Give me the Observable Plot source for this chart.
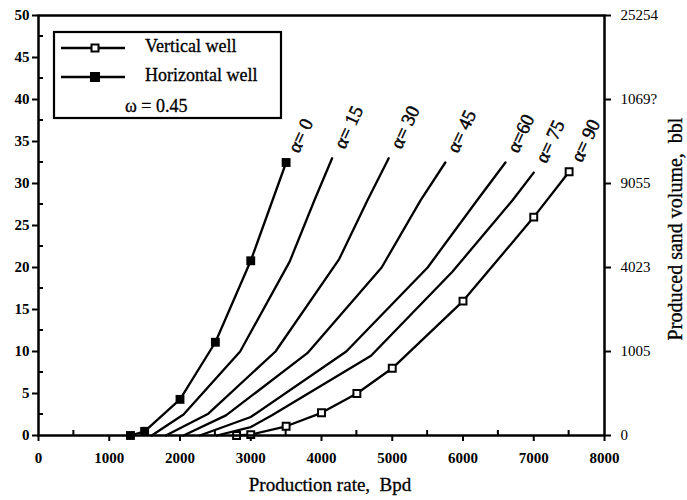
<!DOCTYPE html>
<html><head><meta charset="utf-8">
<script src="https://cdn.jsdelivr.net/npm/d3@7"></script>
<script src="https://cdn.jsdelivr.net/npm/@observablehq/plot@0.6"></script>
<style>
body{margin:0;background:#fff;}
#chart{position:relative;width:687px;height:500px;}
svg text{white-space:pre;}
</style></head><body><div id="chart"></div>
<script>
// ---- data ----
const xTicks = [0,1000,2000,3000,4000,5000,6000,7000,8000];
const xMinor = [500,1500,2500,3500,4500,5500,6500,7500];
const yTicks = [0,5,10,15,20,25,30,35,40,45,50];
const yMinor = [2.5,7.5,12.5,17.5,22.5,27.5,32.5,37.5,42.5,47.5];
const rightPos = [0,10,20,30,40,50];
const rightLabels = ["0","1005","4023","9055","1069?","25254"];

const seriesNames = ["α= 0","α= 15","α= 30","α= 45","α=60","α= 75","α= 90"];
const horizX = [1300,1500,2000,2500,3000,3500];
const horizY = [0,0.5,4.3,11.1,20.8,32.5];
const a15X = [1600,2050,2850,3550,3900,4150];
const a15Y = [0,2.5,10,20.7,28,33];
const a30X = [1800,2400,3350,4250,4650,4950];
const a30Y = [0,2.6,10,21,28,33];
const a45X = [2050,2650,3800,4850,5400,5750];
const a45Y = [0,2.4,9.8,20,28,32.5];
const a60X = [2280,3000,4350,5500,6200,6600];
const a60Y = [0,2.2,10,20,28,32.5];
const a75X = [2520,3000,3300,4700,5850,6700,7000];
const a75Y = [0,1.0,2.4,9.5,19.5,28,31.3];
const vertX = [2800,3000,3500,4000,4500,5000,6000,7000,7500];
const vertY = [0,0.1,1.1,2.7,5,8,16,26,31.4];

const legendLabels = ["Vertical well","Horizontal well"];
const omegaText = "ω = 0.45";
const xLabel = "Production rate,  Bpd";
const rightLabel = "Produced sand volume,  bbl";

// ---- build tables ----
const seriesX = [horizX,a15X,a30X,a45X,a60X,a75X,vertX];
const seriesY = [horizY,a15Y,a30Y,a45Y,a60Y,a75Y,vertY];
const rows = [];
seriesNames.forEach((n,k)=>seriesX[k].forEach((x,i)=>rows.push({name:n,x,y:seriesY[k][i]})));
const horizRows = horizX.map((x,i)=>({x,y:horizY[i]}));
const vertRows = vertX.map((x,i)=>({x,y:vertY[i]}));
const labelRows = seriesNames.map((n,k)=>({name:n,x:seriesX[k][seriesX[k].length-1],y:seriesY[k][seriesY[k].length-1]}));

const FONT = "'Liberation Serif','Times New Roman',serif";
const W=687,H=500,mL=38,mR=83,mT=15,mB=65;

const plot = Plot.plot({
  width:W,height:H,marginLeft:mL,marginRight:mR,marginTop:mT,marginBottom:mB,
  style:{fontFamily:FONT,fontSize:"15px",color:"#000",background:"#fff",overflow:"visible"},
  x:{domain:[0,8000]},
  y:{domain:[0,50]},
  marks:[
    Plot.axisX({ticks:xTicks,tickFormat:d=>String(d),tickSize:6,tickPadding:11,label:null,fontSize:15,fontWeight:"bold",strokeWidth:2}),
    Plot.axisY({ticks:yTicks,tickFormat:d=>String(d),tickSize:6,tickPadding:3,label:null,fontSize:15,fontWeight:"bold",strokeWidth:2}),
    Plot.axisY({anchor:"right",ticks:rightPos,tickFormat:d=>rightLabels[rightPos.indexOf(d)],tickSize:6,tickPadding:10,label:null,fontSize:15,strokeWidth:2}),
    Plot.line(rows,{x:"x",y:"y",z:"name",stroke:"#000",strokeWidth:2.3}),
    Plot.dot(horizRows,{x:"x",y:"y",symbol:"square",fill:"#000",r:5}),
    Plot.dot(vertRows,{x:"x",y:"y",symbol:"square",fill:"#fff",stroke:"#000",strokeWidth:2,r:3.9}),
    Plot.text(labelRows,{x:"x",y:"y",text:"name",rotate:-65,textAnchor:"start",dx:7,dy:-11,fontSize:19,fill:"#000",stroke:"#000",strokeWidth:0.5}),
    Plot.frame({stroke:"#000",strokeWidth:2.5})
  ]
});
document.getElementById("chart").appendChild(plot);

// ---- extras via scales ----
const sx = plot.scale("x"), sy = plot.scale("y");
const svg = d3.select(plot);

const g = svg.append("g").attr("stroke","#000").attr("stroke-width",2);
xMinor.forEach(v=>{const px=sx.apply(v);g.append("line").attr("x1",px).attr("x2",px).attr("y1",sy.apply(0)).attr("y2",sy.apply(0)-5);});
yMinor.forEach(v=>{const py=sy.apply(v);g.append("line").attr("x1",sx.apply(0)).attr("x2",sx.apply(0)+5).attr("y1",py).attr("y2",py);});

// axis titles
svg.append("text").attr("x",330).attr("y",491).attr("text-anchor","middle")
  .attr("font-family",FONT).attr("font-size",19).attr("fill","#000").attr("stroke","#000").attr("stroke-width",0.3).text(xLabel);
svg.append("text").attr("transform","translate(677,229) rotate(-90)").attr("text-anchor","middle")
  .attr("dominant-baseline","middle").attr("font-family",FONT).attr("font-size",20).attr("fill","#000").attr("stroke","#000").attr("stroke-width",0.3).text(rightLabel);

// legend
const lg = svg.append("g");
lg.append("rect").attr("x",54).attr("y",32).attr("width",227).attr("height",86)
  .attr("fill","#fff").attr("stroke","#000").attr("stroke-width",2.2);
[48,77].forEach((yy,i)=>{
  lg.append("line").attr("x1",61).attr("x2",125).attr("y1",yy).attr("y2",yy).attr("stroke","#000").attr("stroke-width",2.3);
  lg.append("rect").attr("x",i===0?91.5:90).attr("y",i===0?yy-3.5:yy-5).attr("width",i===0?7:10).attr("height",i===0?7:10)
    .attr("fill",i===0?"#fff":"#000").attr("stroke","#000").attr("stroke-width",i===0?2:0);
  lg.append("text").attr("x",145).attr("y",yy).attr("text-anchor","start").attr("dominant-baseline","middle")
    .attr("font-family",FONT).attr("font-size",18).attr("fill","#000").attr("stroke","#000").attr("stroke-width",0.3).text(legendLabels[i]);
});
lg.append("text").attr("x",125).attr("y",108).attr("text-anchor","start").attr("dominant-baseline","middle")
  .attr("font-family",FONT).attr("font-size",18).attr("fill","#000").attr("stroke","#000").attr("stroke-width",0.3).text(omegaText);
</script></body></html>
